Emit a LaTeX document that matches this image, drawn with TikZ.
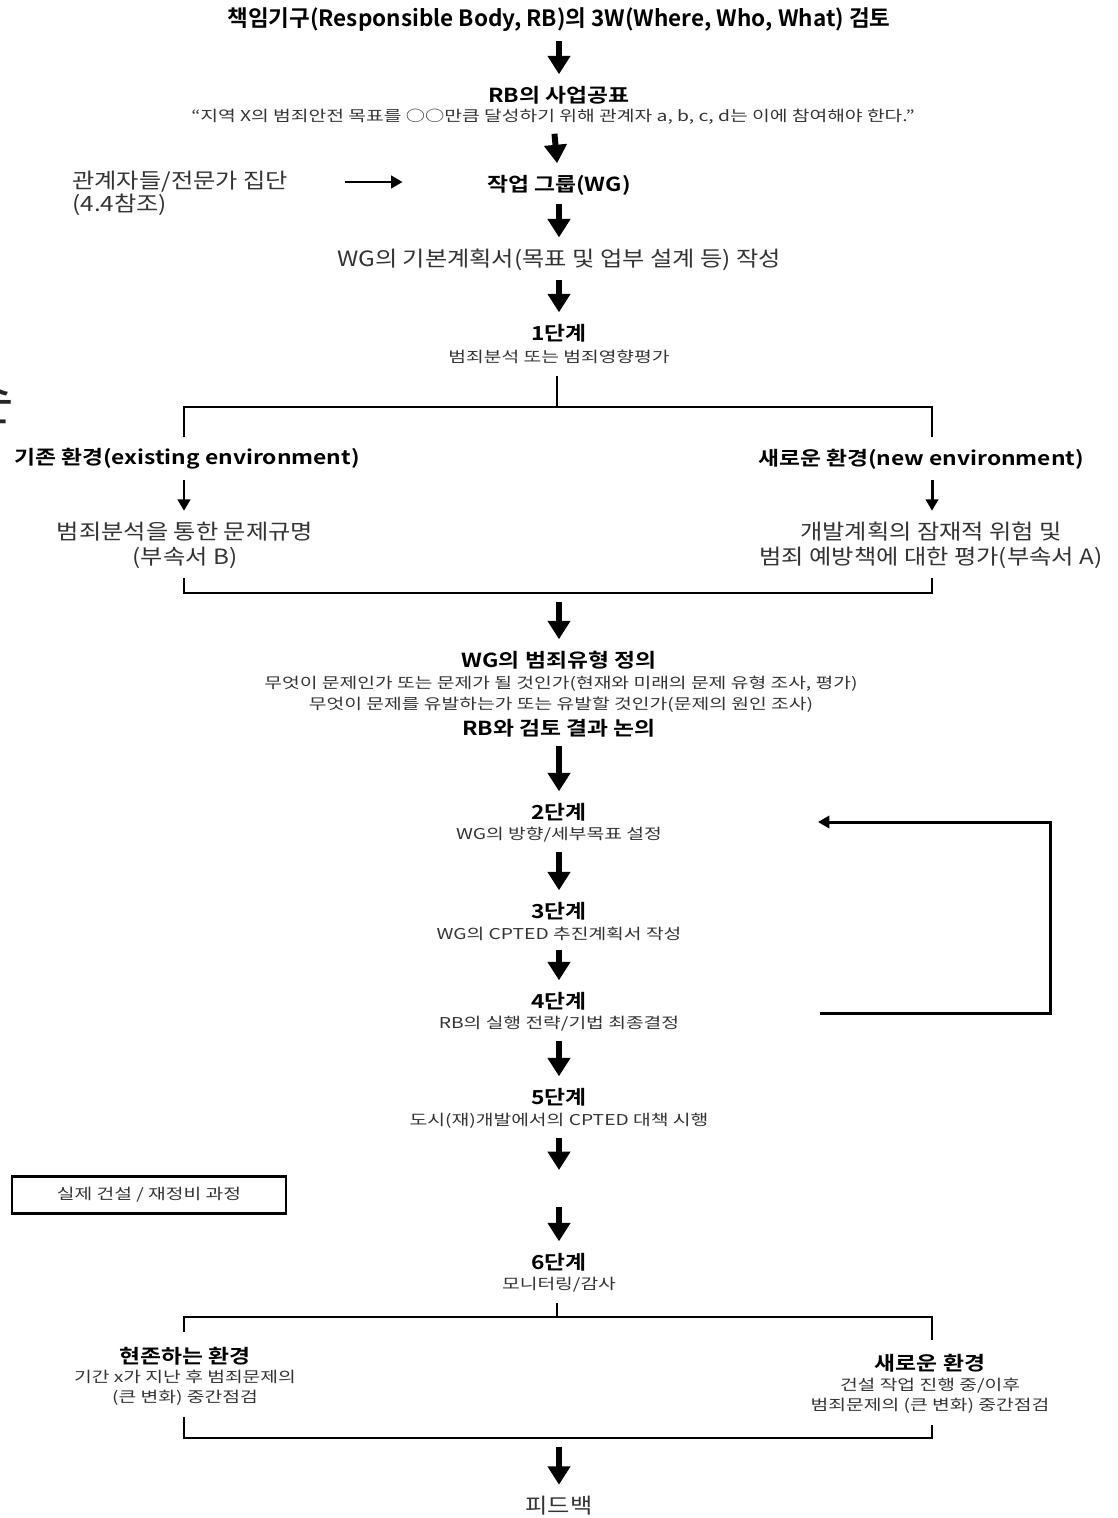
\documentclass[tikz,border=0pt]{standalone}
\usepackage{fontspec}
\setmainfont{Noto Sans CJK KR}[BoldFont={Noto Sans CJK KR Bold}]
\newfontfamily\subfont{Noto Sans CJK KR}[FakeStretch=1.29]
\newfontfamily\midfont{Noto Sans CJK KR}[FakeStretch=1.15]
\newfontfamily\headfont{Noto Sans CJK KR Bold}[FakeStretch=1.18]
\usetikzlibrary{arrows.meta}

\begin{document}
\begin{tikzpicture}[
        x=0.02cm, y=-0.02cm,
        head/.style={
            font=\headfont\fontsize{11}{13}\selectfont, inner sep=0pt
        },
        sub/.style={
            font=\subfont\fontsize{8.5}{11.3}\selectfont, inner sep=0pt, text=black!80
        },
        mid/.style={
            font=\midfont\fontsize{12}{14.2}\selectfont, inner sep=0pt, text=black!80
        },
        flow/.style={
            line width=3.4pt, -{Triangle[width=12.5pt, length=10.5pt]},
            shorten <=5pt, shorten >=6.5pt
        },
        thinflow/.style={
            line width=1.7pt, -{Triangle[width=7pt, length=6.5pt]},
            shorten <=6pt, shorten >=6pt
        },
        bracket/.style={
            line width=1.3pt
        }
    ]
    \useasboundingbox (0,0) rectangle (1117,1518);

    % cut-off glyph at the left edge
    \node[font=\fontsize{32}{32}\selectfont, anchor=east, inner sep=0pt, text=black!85] (edge) at (15,400) {슨};

    % top part
    \node[font=\bfseries\fontsize{12.8}{15}\selectfont, inner sep=0pt] (rbreview) at (559,20) {책임기구(Responsible Body, RB)의 3W(Where, Who, What) 검토};
    \node[head] (announce) at (559,95) {RB의 사업공표};
    \node[sub] (quote) at (553,117) {“지역 X의 범죄안전 목표를 ○○만큼 달성하기 위해 관계자 a, b, c, d는 이에 참여해야 한다.”};
    \node[head] (wg) at (559,185) {작업 그룹(WG)};
    \node[mid, anchor=west] (stake) at (72,182) {관계자들/전문가 집단};
    \node[mid, anchor=west] (stakeref) at (72,205) {(4.4참조)};
    \node[mid] (plan) at (559,260) {WG의 기본계획서(목표 및 업부 설계 등) 작성};

    \draw[flow] (rbreview) -- (announce);
    \draw[flow] (quote) -- (wg);
    \draw[thinflow, shorten <=32pt, shorten >=48pt] (stake.east) -- (stake.east -| wg.west);
    \draw[flow] (wg) -- (plan);

    % stage 1
    \node[head] (s1) at (559,333) {1단계};
    \node[sub] (s1sub) at (559,357) {범죄분석 또는 범죄영향평가};
    \draw[flow] (plan) -- (s1);

    \coordinate (split1) at (557,407);
    \coordinate (s1L) at (184,437);
    \coordinate (s1R) at (932,437);
    \draw[bracket, shorten <=7pt] (s1sub.south -| split1) -- (split1);
    \draw[bracket] (s1L) |- (split1) -| (s1R);

    \node[head] (exist) at (187,459) {기존 환경(existing environment)};
    \node[head] (newenv) at (921,459) {새로운 환경(new environment)};
    \node[mid, align=center] (existsub) at (185,545) {범죄분석을 통한 문제규명\\(부속서 B)};
    \node[mid, align=center] (newsub) at (931,545) {개발계획의 잠재적 위험 및\\범죄 예방책에 대한 평가(부속서 A)};
    \draw[thinflow] (exist.south -| s1L) -- (existsub.north -| s1L);
    \draw[thinflow] (newenv.south -| s1R) -- (newsub.north -| s1R);

    \coordinate (j1L) at (184,578);
    \coordinate (j1R) at (932,578);
    \coordinate (join1) at (559,593);
    \draw[bracket] (j1L) |- (join1) -| (j1R);

    % crime types
    \node[head] (crime) at (559,660) {WG의 범죄유형 정의};
    \node[sub, align=center, font=\subfont\fontsize{8.5}{11.9}\selectfont] (crimesub) at (561,694) {무엇이 문제인가 또는 문제가 될 것인가(현재와 미래의 문제 유형 조사, 평가)\\무엇이 문제를 유발하는가 또는 유발할 것인가(문제의 원인 조사)};
    \node[head] (discuss) at (559,728) {RB와 검토 결과 논의};
    \draw[flow] (join1) -- (crime);

    % stages 2 to 5
    \node[head] (s2) at (559,812) {2단계};
    \node[sub] (s2sub) at (559,835) {WG의 방향/세부목표 설정};
    \node[head] (s3) at (559,911) {3단계};
    \node[sub] (s3sub) at (559,934) {WG의 CPTED 추진계획서 작성};
    \node[head] (s4) at (559,1001) {4단계};
    \node[sub] (s4sub) at (559,1024) {RB의 실행 전략/기법 최종결정};
    \node[head] (s5) at (559,1097) {5단계};
    \node[sub] (s5sub) at (559,1121) {도시(재)개발에서의 CPTED 대책 시행};
    \draw[flow] (discuss) -- (s2);
    \draw[flow] (s2sub) -- (s3);
    \draw[flow] (s3sub) -- (s4);
    \draw[flow] (s4sub) -- (s5);

    \coordinate (loopout) at (820,1013);
    \coordinate (loopin) at (818,822);
    \draw[thinflow, shorten <=0pt, shorten >=0pt] (loopout) -- ++(230,0) |- (loopin);

    % construction
    \coordinate (cut5) at (559,1170);
    \coordinate (cut6) at (559,1207);
    \draw[flow, shorten >=0pt] (s5sub) -- (cut5);
    \node[sub, draw, line width=1.2pt, minimum width=5.48cm, minimum height=0.74cm] (build) at (149,1195) {실제 건설 / 재정비 과정};

    % stage 6
    \node[head] (s6) at (559,1262) {6단계};
    \node[sub] (s6sub) at (559,1285) {모니터링/감사};
    \draw[flow, shorten <=0pt] (cut6) -- (s6);

    \coordinate (split2) at (557,1317);
    \coordinate (s2L) at (184,1332);
    \coordinate (s2R) at (932,1340);
    \draw[bracket, shorten <=6pt] (s6sub.south -| split2) -- (split2);
    \draw[bracket] (s2L) |- (split2) -| (s2R);

    \node[head] (present) at (185,1356) {현존하는 환경};
    \node[sub, align=center] (presentsub) at (185,1388) {기간 x가 지난 후 범죄문제의\\(큰 변화) 중간점검};
    \node[head] (future) at (930,1363) {새로운 환경};
    \node[sub, align=center] (futuresub) at (930,1396) {건설 작업 진행 중/이후\\범죄문제의 (큰 변화) 중간점검};

    \coordinate (j2L) at (184,1417);
    \coordinate (j2R) at (932,1425);
    \coordinate (join2) at (559,1438);
    \draw[bracket] (j2L) |- (join2) -| (j2R);

    \node[mid] (feedback) at (559,1506) {피드백};
    \draw[flow] (join2) -- (feedback);
\end{tikzpicture}
\end{document}
